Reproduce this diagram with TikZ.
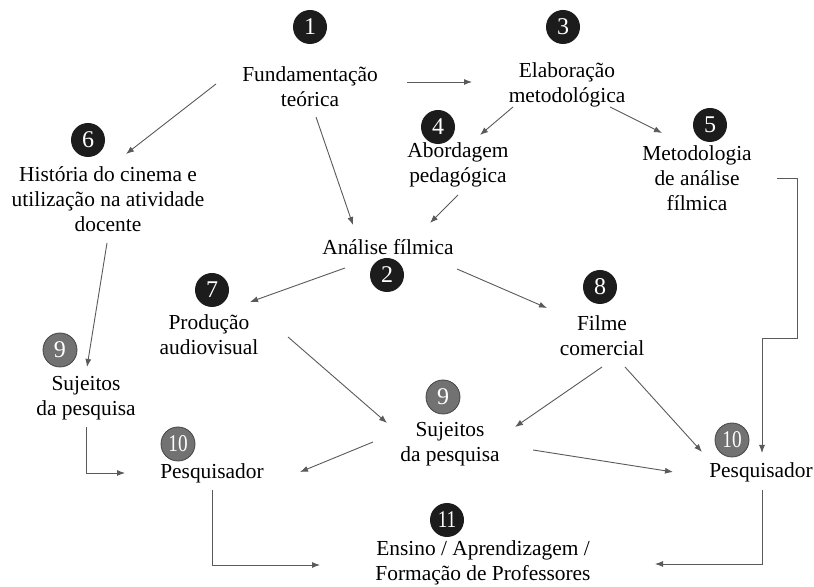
\documentclass[tikz,border=0pt]{standalone}
\usepackage{fontspec}
\setmainfont{Liberation Serif}
\usetikzlibrary{calc}
\usetikzlibrary{arrows.meta}
\definecolor{numblack}{HTML}{1C1C1C}
\definecolor{numgray}{HTML}{727272}
\definecolor{linegray}{HTML}{5A5A5A}

\begin{document}
\begin{tikzpicture}[
        x=0.5pt, y=-0.5pt,
        lbl/.style={align=center, inner sep=0pt, font=\fontsize{10.7}{12.5}\selectfont},
        num/.style={circle, fill=numblack, text=white, minimum size=17pt, inner sep=0pt, font=\fontsize{12}{12}\selectfont},
        numg/.style={num, fill=numgray, draw=numgray!60!black, line width=0.4pt},
        arr/.style={draw=linegray, line width=0.45pt, -{Latex[length=4pt,width=3pt]}}]

        \path[fill=white, use as bounding box] (0,0) rectangle (814,587);

        % numbered circles
        \node[num] (n1) at (310,27) {1};
        \node[num] (n2) at (387,275) {2};
        \node[num] (n3) at (563,27) {3};
        \node[num] (n4) at (438,127) {4};
        \node[num] (n5) at (710,125) {5};
        \node[num] (n6) at (88,140) {6};
        \node[num] (n7) at (212,290) {7};
        \node[num] (n8) at (600,287) {8};
        \node[numg] (n9a) at (60,350) {9};
        \node[numg] (n9b) at (443,397) {9};
        \node[numg] (n10a) at (178,444) {\scalebox{0.8}[1]{10}};
        \node[numg] (n10b) at (732,440) {\scalebox{0.8}[1]{10}};
        \node[num] (n11) at (447,520) {\scalebox{0.8}[1]{11}};

        % labels
        \node[lbl] (Fund) at (310,87) {Fundamentação\\teórica};
        \node[lbl] (Elab) at (567,85) {Elaboração\\metodológica};
        \node[lbl] (Abord) at (458,165) {Abordagem\\pedagógica};
        \node[lbl] (Metod) at (697,178) {Metodologia\\de análise\\fílmica};
        \node[lbl] (Hist) at (108,199) {História do cinema e\\utilização na atividade\\docente};
        \node[lbl] (Anal) at (388,247) {Análise fílmica};
        \node[lbl] (Prod) at (209,335) {Produção\\audiovisual};
        \node[lbl] (Film) at (602,336) {Filme\\comercial};
        \node[lbl] (SujL) at (86,398) {Sujeitos\\da pesquisa};
        \node[lbl] (SujM) at (450,444) {Sujeitos\\da pesquisa};
        \node[lbl] (PesqL) at (212,473) {Pesquisador};
        \node[lbl] (PesqR) at (761,472) {Pesquisador};
        \node[lbl] (Ens) at (483,563) {Ensino / Aprendizagem /\\Formação de Professores};

        % connectors
        \draw[arr] ($(Fund)+(97,-5)$) -- ($(Elab)+(-95,-3)$);
        \draw[arr] ($(Fund)+(-94,-3)$) -- ($(Hist)+(18,-45)$);
        \draw[arr] ($(Fund)+(6,30)$) -- ($(Anal)+(-35,-22)$);
        \draw[arr] ($(Elab)+(-54,22)$) -- ($(Abord)+(22,-30)$);
        \draw[arr] ($(Elab)+(43,22)$) -- ($(Metod)+(-35,-45)$);
        \draw[arr] ($(Abord)+(0,30)$) -- ($(Anal)+(42,-24)$);
        \draw[arr] ($(Metod)+(80,0)$) -| ($(PesqR)+(36,-134)$) -| ($(PesqR)+(1,-19)$);
        \draw[arr] ($(Hist)+(-1,44)$) -- ($(SujL)+(1,-31)$);
        \draw[arr] ($(Anal)+(-43,21)$) -- ($(Prod)+(41,-33)$);
        \draw[arr] ($(Anal)+(69,22)$) -- ($(Film)+(-55,-28)$);
        \draw[arr] ($(SujL)+(0,29)$) |- ($(PesqL)+(-87,0)$);
        \draw[arr] ($(Prod)+(79,2)$) -- ($(SujM)+(-63,-21)$);
        \draw[arr] ($(Film)+(0,31)$) -- ($(SujM)+(65,-17)$);
        \draw[arr] ($(Film)+(23,31)$) -- ($(PesqR)+(-59,-20)$);
        \draw[arr] ($(SujM)+(-77,-2)$) -- ($(PesqL)+(88,-1)$);
        \draw[arr] ($(SujM)+(83,6)$) -- ($(PesqR)+(-88,0)$);
        \draw[arr] ($(PesqL)+(0,17)$) |- ($(Ens)+(-163,2)$);
        \draw[arr] ($(PesqR)+(1,18)$) |- ($(Ens)+(172,1)$);

\end{tikzpicture}
\end{document}
